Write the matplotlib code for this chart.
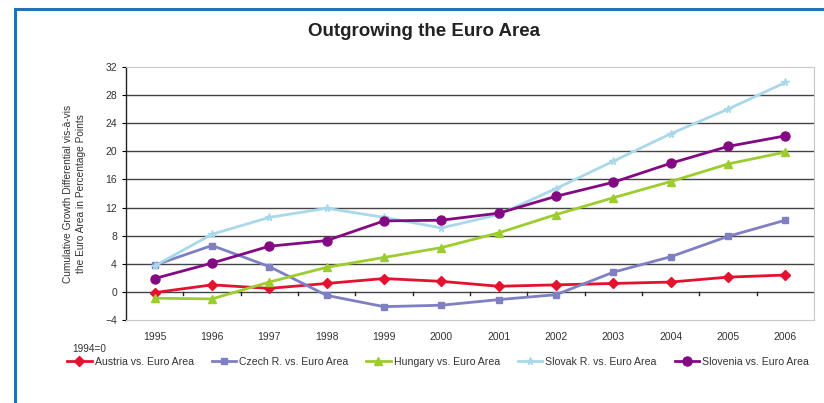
import matplotlib
matplotlib.use("Agg")
import matplotlib.pyplot as plt
from matplotlib.patches import Rectangle

plt.rcParams['font.family'] = ['Liberation Sans', 'DejaVu Sans']

# Data (1994 = 0)
years = ['1995', '1996', '1997', '1998', '1999', '2000',
         '2001', '2002', '2003', '2004', '2005', '2006']
austria = [-0.1, 1.0, 0.5, 1.2, 1.9, 1.5, 0.8, 1.0, 1.2, 1.4, 2.1, 2.4]
czech = [3.8, 6.6, 3.6, -0.5, -2.1, -1.9, -1.1, -0.4, 2.8, 5.0, 7.9, 10.2]
hungary = [-0.9, -1.0, 1.4, 3.5, 4.9, 6.3, 8.4, 11.0, 13.4, 15.7, 18.2, 19.9]
slovak = [3.7, 8.2, 10.6, 11.9, 10.6, 9.1, 11.0, 14.7, 18.6, 22.5, 26.0, 29.8]
slovenia = [1.9, 4.1, 6.5, 7.3, 10.1, 10.2, 11.2, 13.6, 15.6, 18.3, 20.7, 22.2]

series = [
    ('Austria vs. Euro Area', austria, '#e3122f', 'D', 5.5),
    ('Czech R. vs. Euro Area', czech, '#7f7fc4', 's', 5),
    ('Hungary vs. Euro Area', hungary, '#9ccc2e', '^', 6),
    ('Slovak R. vs. Euro Area', slovak, '#a9d8ea', '*', 5.5),
    ('Slovenia vs. Euro Area', slovenia, '#830a83', 'o', 6.5),
]

fig = plt.figure(figsize=(8.24, 4.03), dpi=100)
ax = fig.add_axes([126 / 824, 1 - 320 / 403, 688 / 824, 253 / 403])

# blue frame around the whole figure
fig.patches.append(Rectangle((15 / 824, -0.1), 1.0, 1 - 9.5 / 403 + 0.1,
                             transform=fig.transFigure, fill=False,
                             edgecolor='#2471b5', linewidth=2.2))

x = list(range(len(years)))
for name, vals, color, marker, ms in series:
    ax.plot(x, vals, color=color, marker=marker, markersize=ms, linewidth=2.0,
            label=name, markeredgecolor=color)

ax.set_xlim(-0.5, len(years) - 0.5)
ax.set_ylim(-4, 32)
ax.set_yticks(range(-4, 33, 4))
ax.set_xticks(x)
ax.set_xticklabels(years)
ax.tick_params(axis='x', length=0, pad=9, labelsize=7.5, labelcolor='#333333')
ax.tick_params(axis='y', length=3, width=0.8, labelsize=7.5, labelcolor='#333333')

for yv in range(0, 32, 4):
    ax.axhline(yv, color='#444444', linewidth=1.0, zorder=0)

# small tick marks on the zero line between categories
for b in range(len(years) - 1):
    ax.plot([b + 0.5, b + 0.5], [0, -0.45], color='#222222', linewidth=1.0, zorder=1)

for side in ['top', 'right', 'bottom']:
    ax.spines[side].set_color('#c8c8c8')
ax.spines['left'].set_color('#222222')
ax.spines['left'].set_linewidth(1.0)

ax.set_ylabel('Cumulative Growth Differential vis-à-vis\nthe Euro Area in Percentage Points',
              fontsize=7.3, color='#333333', labelpad=14, linespacing=1.4)

fig.text(424 / 824, 1 - 32 / 403, 'Outgrowing the Euro Area', ha='center', va='center',
         fontsize=13.5, fontweight='bold', color='#222222')
fig.text(72 / 824, 1 - 349 / 403, '1994=0', ha='left', va='center',
         fontsize=7.2, color='#333333')

fig.legend(loc='center', bbox_to_anchor=(438 / 824, 1 - 362 / 403), ncol=5,
           frameon=False, fontsize=7.6, handlelength=2.3, columnspacing=1.7,
           handletextpad=0.3, labelcolor='#333333')

plt.savefig('out.png', dpi=100)
